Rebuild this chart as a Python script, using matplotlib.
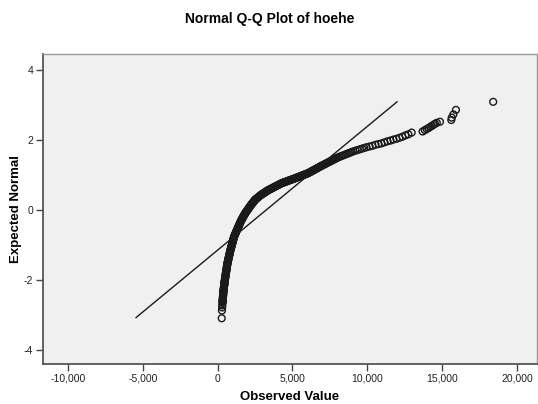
import matplotlib
matplotlib.use("Agg")
from matplotlib import pyplot as plt
from matplotlib.ticker import FuncFormatter, FixedLocator

plt.rcParams["font.family"] = ["Liberation Sans", "DejaVu Sans"]

title = "Normal Q-Q Plot of hoehe"
x_label = "Observed Value"
y_label = "Expected Normal"

# sorted observed values of hoehe
observed = [
    270, 285, 300, 308,
    322, 325, 329, 332, 336, 340, 343, 347, 351, 354,
    358, 362, 366, 369, 373, 376, 380, 386, 392, 398,
    404, 410, 415, 421, 427, 433, 439, 445, 451, 457,
    462, 468, 474, 480, 487, 494, 501, 508, 516, 523,
    530, 538, 545, 552, 559, 566, 574, 581, 588, 596,
    603, 610, 617, 625, 632, 639, 646, 656, 666, 677,
    687, 698, 708, 719, 729, 740, 750, 761, 771, 782,
    792, 803, 813, 824, 834, 845, 856, 869, 882, 895,
    908, 920, 933, 946, 959, 972, 985, 997, 1010, 1023,
    1036, 1049, 1062, 1074, 1087, 1100, 1120, 1140, 1160, 1180,
    1200, 1220, 1240, 1260, 1280, 1300, 1320, 1340, 1360, 1380,
    1401, 1422, 1443, 1464, 1485, 1506, 1527, 1548, 1569,
    1592, 1605, 1625, 1645, 1665, 1685, 1704, 1724, 1744, 1764,
    1783, 1803, 1824, 1845, 1869, 1893, 1917, 1941, 1965, 1990,
    2014, 2038, 2062, 2086, 2110, 2134, 2160, 2185, 2212, 2239,
    2266, 2293, 2320, 2347, 2374, 2400, 2427, 2454, 2482, 2510,
    2553, 2596, 2639, 2682, 2725, 2769, 2812, 2855, 2902, 2950,
    2986, 3022, 3058, 3093, 3129, 3165, 3201, 3237, 3272, 3308,
    3344, 3380, 3425, 3470, 3515, 3560, 3605, 3650, 3695, 3740,
    3785, 3830, 3875, 3920, 3965, 4010, 4055, 4100, 4145, 4190,
    4235, 4280, 4330, 4380, 4430, 4480, 4530, 4580, 4630, 4680,
    4730, 4780, 4830, 4880, 4930, 4980, 5030, 5080, 5130, 5170,
    5220, 5270, 5320, 5370, 5420, 5470, 5520, 5570, 5620, 5670,
    5720, 5770, 5820, 5870, 5920, 5970, 6020, 6060, 6110, 6160,
    6210, 6260, 6310, 6360, 6410, 6460, 6510, 6560, 6610, 6660,
    6710, 6760, 6810, 6860, 6910, 6960, 7010, 7070, 7130, 7190,
    7250, 7310, 7370, 7430, 7490, 7550, 7610, 7670, 7730, 7790,
    7850, 7910, 7970, 8050, 8150, 8250, 8350, 8450, 8550, 8650,
    8750, 8850, 8950, 9050, 9200, 9350, 9500, 9650, 9800, 9950,
    10150, 10350, 10550, 10750, 10950, 11150, 11350, 11550, 11750, 11950,
    12150, 12350, 12550, 12750, 12970,
    13700, 13850, 13970, 14100, 14200, 14320, 14420, 14530, 14650, 14860,
    15620, 15650, 15760, 15930, 18420,
]

# expected normal quantiles for the observed values above
expected = [
    -3.10, -2.88, -2.79, -2.73,
    -2.66, -2.64, -2.62, -2.60, -2.58, -2.56, -2.54, -2.52, -2.50, -2.48,
    -2.46, -2.44, -2.42, -2.40, -2.38, -2.36, -2.34, -2.32, -2.30, -2.28,
    -2.26, -2.24, -2.22, -2.20, -2.18, -2.16, -2.14, -2.12, -2.10, -2.08,
    -2.06, -2.04, -2.02, -2.00, -1.98, -1.96, -1.94, -1.92, -1.90, -1.88,
    -1.86, -1.84, -1.82, -1.80, -1.78, -1.76, -1.74, -1.72, -1.70, -1.68,
    -1.66, -1.64, -1.62, -1.60, -1.58, -1.56, -1.54, -1.52, -1.50, -1.48,
    -1.46, -1.44, -1.42, -1.40, -1.38, -1.36, -1.34, -1.32, -1.30, -1.28,
    -1.26, -1.24, -1.22, -1.20, -1.18, -1.16, -1.14, -1.12, -1.10, -1.08,
    -1.06, -1.04, -1.02, -1.00, -0.98, -0.96, -0.94, -0.92, -0.90, -0.88,
    -0.86, -0.84, -0.82, -0.80, -0.78, -0.76, -0.74, -0.72, -0.70, -0.68,
    -0.66, -0.64, -0.62, -0.60, -0.58, -0.56, -0.54, -0.52, -0.50, -0.48,
    -0.46, -0.44, -0.42, -0.40, -0.38, -0.36, -0.34, -0.32, -0.30,
    -0.285, -0.27, -0.255, -0.24, -0.225, -0.21, -0.195, -0.18, -0.165, -0.15,
    -0.135, -0.12, -0.105, -0.09, -0.075, -0.06, -0.045, -0.03, -0.015, 0.00,
    0.015, 0.03, 0.045, 0.06, 0.075, 0.09, 0.105, 0.12, 0.135, 0.15,
    0.165, 0.18, 0.195, 0.21, 0.225, 0.24, 0.255, 0.27, 0.285, 0.30,
    0.315, 0.33, 0.345, 0.36, 0.375, 0.39, 0.405, 0.42, 0.435, 0.45,
    0.46, 0.47, 0.48, 0.49, 0.50, 0.51, 0.52, 0.53, 0.54, 0.55,
    0.56, 0.57, 0.58, 0.59, 0.60, 0.61, 0.62, 0.63, 0.64, 0.65,
    0.66, 0.67, 0.68, 0.69, 0.70, 0.71, 0.72, 0.73, 0.74, 0.75,
    0.76, 0.77, 0.778, 0.786, 0.794, 0.801, 0.809, 0.817, 0.825, 0.833,
    0.841, 0.849, 0.857, 0.864, 0.872, 0.880, 0.888, 0.896, 0.904, 0.910,
    0.918, 0.927, 0.935, 0.944, 0.952, 0.961, 0.969, 0.978, 0.986, 0.994,
    1.003, 1.011, 1.020, 1.028, 1.037, 1.045, 1.053, 1.060, 1.072, 1.083,
    1.095, 1.107, 1.118, 1.130, 1.142, 1.154, 1.165, 1.177, 1.189, 1.200,
    1.212, 1.224, 1.236, 1.247, 1.259, 1.271, 1.282, 1.295, 1.309, 1.322,
    1.335, 1.348, 1.361, 1.375, 1.388, 1.401, 1.414, 1.427, 1.441, 1.454,
    1.467, 1.480, 1.493, 1.509, 1.526, 1.543, 1.560, 1.577, 1.594, 1.611,
    1.628, 1.645, 1.662, 1.68, 1.70, 1.72, 1.74, 1.76, 1.78, 1.80,
    1.82, 1.84, 1.87, 1.89, 1.91, 1.94, 1.97, 1.99, 2.02, 2.04,
    2.07, 2.10, 2.14, 2.17, 2.22,
    2.25, 2.29, 2.32, 2.35, 2.38, 2.41, 2.44, 2.47, 2.50, 2.53,
    2.58, 2.65, 2.74, 2.87, 3.10,
]

# reference line (normal with the sample mean and sd)
line_x = [-5460, 11990]
line_y = [-3.08, 3.10]

x_ticks = [-10000, -5000, 0, 5000, 10000, 15000, 20000]
y_ticks = [-4, -2, 0, 2, 4]

fig = plt.figure(figsize=(5.38, 4.04), dpi=100)
ax = fig.add_axes([0.0799, 0.099, 0.918, 0.7673])
ax.set_facecolor("#f0f0f0")

ax.plot(line_x, line_y, color="#1a1a1a", lw=1.0, zorder=2)
ax.scatter(observed, expected, s=24, facecolors="none", edgecolors="#1a1a1a",
           linewidths=1.0, zorder=3)

ax.set_xlim(-11680, 21340)
ax.set_ylim(-4.41, 4.47)
ax.xaxis.set_major_locator(FixedLocator(x_ticks))
ax.yaxis.set_major_locator(FixedLocator(y_ticks))
ax.xaxis.set_major_formatter(FuncFormatter(lambda v, p: f"{v:,.0f}"))
ax.yaxis.set_major_formatter(FuncFormatter(lambda v, p: f"{v:.0f}"))
ax.tick_params(direction="out", length=5, width=1, color="#444444",
               labelsize=7.5, labelcolor="#222222", pad=2)

for side in ["left", "bottom"]:
    ax.spines[side].set_color("#555555")
    ax.spines[side].set_linewidth(1.3)
for side in ["top", "right"]:
    ax.spines[side].set_color("#999999")
    ax.spines[side].set_linewidth(1.0)

ax.set_xlabel(x_label, fontsize=9.5, fontweight="bold", labelpad=5)
fig.text(16.5 / 538, 1 - 209 / 404, y_label, rotation=90, ha="center",
         va="center", fontsize=9.5, fontweight="bold")
fig.text(0.502, 0.953, title, ha="center", va="center",
         fontsize=10, fontweight="bold")

fig.savefig("out.png", dpi=100)
